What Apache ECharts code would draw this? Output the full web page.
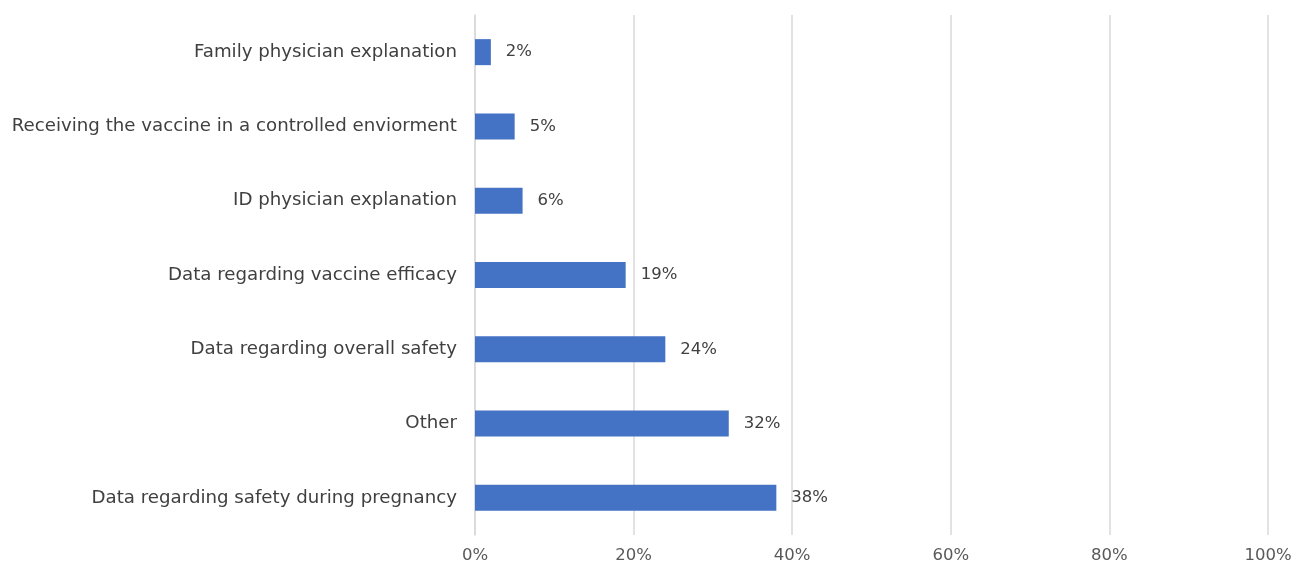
<!DOCTYPE html>
<html><head><meta charset="utf-8">
<script src="https://cdn.jsdelivr.net/npm/echarts@6/dist/echarts.min.js"></script>
<style>html,body{margin:0;padding:0;background:#fff}#c{width:1304px;height:577px}</style>
</head><body><div id="c"></div>
<script>
const categories = [
  "Data regarding safety during pregnancy",
  "Other",
  "Data regarding overall safety",
  "Data regarding vaccine efficacy",
  "ID physician explanation",
  "Receiving the vaccine in a controlled enviorment",
  "Family physician explanation"
];
const values = [38, 32, 24, 19, 6, 5, 2];
const tickLabels = ["0%", "20%", "40%", "60%", "80%", "100%"];

const chart = echarts.init(document.getElementById('c'), null, {renderer: 'canvas'});
const font = '"DejaVu Sans", sans-serif';
chart.setOption({
  animation: false,
  grid: {left: 475, right: 36, top: 15, bottom: 42, containLabel: false},
  xAxis: {
    type: 'value', min: 0, max: 100, interval: 20,
    axisLine: {show: false}, axisTick: {show: false},
    splitLine: {show: true, lineStyle: {color: '#d9d9d9', width: 1.5}},
    axisLabel: {color: '#595959', fontSize: 16.5, fontFamily: font, margin: 12,
      formatter: v => tickLabels[v / 20]}
  },
  yAxis: {
    type: 'category', data: categories,
    axisLine: {show: true, lineStyle: {color: '#d9d9d9', width: 1.5}},
    axisTick: {show: false},
    axisLabel: {color: '#404040', fontSize: 18.2, fontFamily: font, margin: 18}
  },
  series: [{
    type: 'bar', data: values, barWidth: '35%',
    itemStyle: {color: '#4472C4'},
    label: {show: true, position: 'right', distance: 15, color: '#404040',
      fontSize: 16.5, fontFamily: font, formatter: p => p.value + '%'}
  }]
});
</script></body></html>
